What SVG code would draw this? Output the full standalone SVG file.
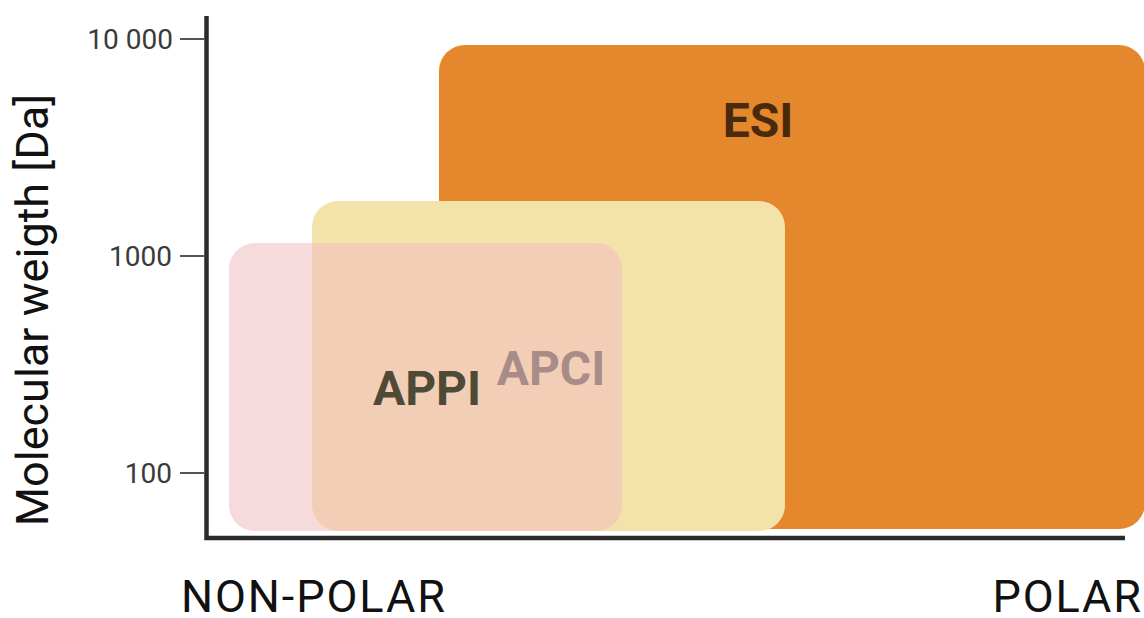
<svg xmlns="http://www.w3.org/2000/svg" width="1144" height="618" viewBox="0 0 1144 618">
  <style>
    .axis { stroke: #2b2b2b; stroke-width: 4.5; fill: none; }
    .tick { stroke: #555555; stroke-width: 2; }
    .ticklabel { font-family: Roboto, "Liberation Sans", sans-serif; font-size: 28px; fill: #3a3a3a; text-anchor: end; }
    .axislabel { font-family: Roboto, "Liberation Sans", sans-serif; font-size: 45px; fill: #111111; }
    .pole { letter-spacing: 1.9px; }
    .region { font-family: Roboto, "Liberation Sans", sans-serif; font-size: 48px; font-weight: bold; }
  </style>

  <!-- ionisation regions -->
  <g id="esi">
    <rect x="439" y="45" width="706" height="484" rx="26" ry="26" fill="#e5872c"/>
    <text class="region" x="758" y="137" text-anchor="middle" fill="#4a2a0e">ESI</text>
  </g>
  <g id="apci">
    <rect x="312" y="201" width="473" height="330" rx="26" ry="26" fill="#f3e3aa"/>
  </g>
  <g id="appi">
    <rect x="229" y="243" width="393" height="288" rx="26" ry="26" fill="#f1c0c1" fill-opacity="0.58"/>
  </g>
  <text class="region" x="551" y="385" text-anchor="middle" fill="#a98b88">APCI</text>
  <text class="region" x="427" y="405" text-anchor="middle" fill="#4f4a36">APPI</text>

  <!-- axes -->
  <g id="axes">
    <path class="axis" d="M206.5 16 V538 H1125"/>
    <line class="tick" x1="180" y1="39" x2="205" y2="39"/>
    <line class="tick" x1="180" y1="256" x2="205" y2="256"/>
    <line class="tick" x1="180" y1="473" x2="205" y2="473"/>
    <text class="ticklabel" x="173" y="49">10 000</text>
    <text class="ticklabel" x="172" y="266">1000</text>
    <text class="ticklabel" x="172" y="483">100</text>
    <text class="axislabel" transform="translate(48 310) rotate(-90)" text-anchor="middle">Molecular weigth [Da]</text>
    <text class="axislabel pole" x="181" y="612">NON-POLAR</text>
    <text class="axislabel pole" x="1143" y="612" text-anchor="end">POLAR</text>
  </g>
</svg>
